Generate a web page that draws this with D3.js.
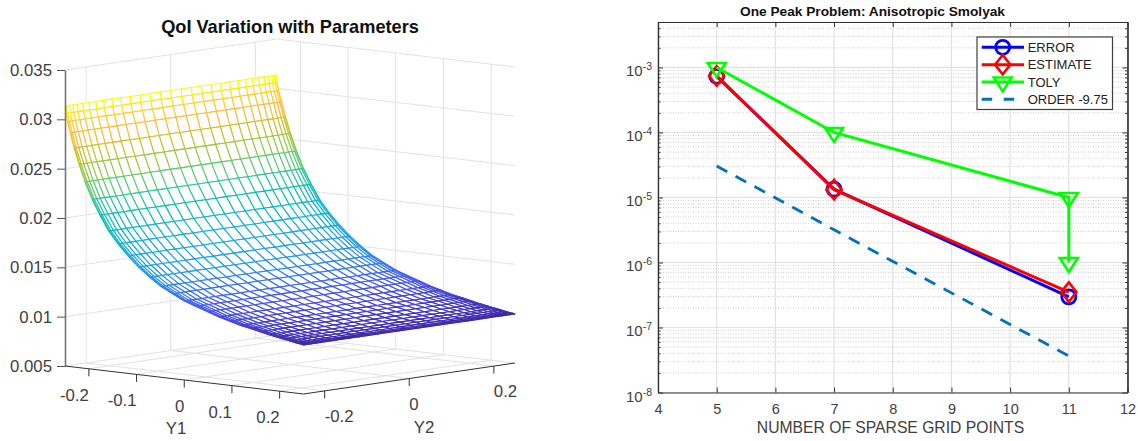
<!DOCTYPE html>
<html><head><meta charset="utf-8">
<script src="https://cdn.jsdelivr.net/npm/d3@7"></script>
<style>
html,body{margin:0;padding:0;background:#fff;overflow:hidden}
text{font-family:"Liberation Sans",Arial,sans-serif}
</style></head><body>
<svg id="c" width="1138" height="441"></svg>
<script>
// ---------- left panel data ----------
const y1Nodes=[-0.25,-0.2488,-0.2452,-0.2392,-0.231,-0.2205,-0.2079,-0.1932,-0.1768,-0.1586,-0.1389,-0.1178,-0.0957,-0.0726,-0.0488,-0.0245,0,0.0245,0.0488,0.0726,0.0957,0.1178,0.1389,0.1586,0.1768,0.1932,0.2079,0.2205,0.231,0.2392,0.2452,0.2488,0.25];
const y2Nodes=y1Nodes.slice();
const qoiByY1=[0.03135,0.0306,0.0298,0.0287,0.0272,0.0256,0.0239,0.0222,0.0207,0.0192,0.018,0.0169,0.0159,0.015,0.0142,0.0136,0.013,0.0126,0.0122,0.0118,0.0115,0.0112,0.011,0.0108,0.0106,0.01045,0.01032,0.01022,0.01012,0.01006,0.01001,0.00998,0.00997];
const y1Ticks=[-0.2,-0.1,0,0.1,0.2];
const y2Ticks=[-0.2,0,0.2];
const zTicks=[0.005,0.01,0.015,0.02,0.025,0.03,0.035];
const parulaStops=["#3e26a8","#4752f4","#2796eb","#12b1d6","#0bbdbc","#37c897","#80cc59","#c5c22a","#f8ba3d","#fecc30","#f9fb0e"];
const parulaPos=[0,0.11,0.24,0.40,0.50,0.60,0.70,0.80,0.87,0.93,1];
// ---------- right panel data ----------
const gridPoints=[5,7,11];
const errorVals=[7.3e-4,1.34e-5,2.95e-7];
const estimateVals=[7.4e-4,1.32e-5,3.5e-7];
const tolyX=[5,7,11,11];
const tolyVals=[1e-3,1e-4,1e-5,1e-6];
const orderVals=[3.05e-5,3.18e-6,3.65e-8];
const xTicks=[4,5,6,7,8,9,10,11,12];
const yDecades=[1e-8,1e-7,1e-6,1e-5,1e-4,1e-3];
const legendLabels=["ERROR","ESTIMATE","TOLY","ORDER -9.75"];

const svg=d3.select("#c");
const TXT="#404040", GRID="#e2e2e2";

// ========== LEFT: 3D mesh through linear scales ==========
const sy1X=d3.scaleLinear().domain([-0.25,0.25]).range([0,238.5]);
const sy1Y=d3.scaleLinear().domain([-0.25,0.25]).range([0,28]);
const sy2X=d3.scaleLinear().domain([-0.25,0.25]).range([0,211.5]);
const sy2Y=d3.scaleLinear().domain([-0.25,0.25]).range([0,-31]);
const sz=d3.scaleLinear().domain([0.005,0.035]).range([366,70]);
const X0=65;
const px=(a,b)=>X0+sy1X(a)+sy2X(b);
const py=(a,b,z)=>sz(z)+sy1Y(a)+sy2Y(b);
const left=svg.append("g");
const g3=left.append("g").attr("fill","none").attr("stroke",GRID).attr("stroke-width",1);
const seg=(a0,b0,z0,a1,b1,z1)=>g3.append("line").attr("x1",px(a0,b0)).attr("y1",py(a0,b0,z0)).attr("x2",px(a1,b1)).attr("y2",py(a1,b1,z1));
const [L,H]=[-0.25,0.25], [ZL,ZH]=[0.005,0.035];
zTicks.forEach(z=>{seg(L,L,z,L,H,z);seg(L,H,z,H,H,z);});
y2Ticks.forEach(b=>{seg(L,b,ZL,L,b,ZH);seg(L,b,ZL,H,b,ZL);});
y1Ticks.forEach(a=>{seg(a,H,ZL,a,H,ZH);seg(a,L,ZL,a,H,ZL);});

const zc=d3.scaleLinear().domain(parulaPos.map(t=>0.00997+t*(0.03135-0.00997))).range(parulaStops).interpolate(d3.interpolateRgb).clamp(true);
const faces=[];
for(let i=0;i<y1Nodes.length-1;i++)for(let j=y2Nodes.length-2;j>=0;j--)faces.push({i,j});
const quad=d3.line().x(d=>d[0]).y(d=>d[1]);
left.append("g").selectAll("path").data(faces).join("path")
 .attr("d",({i,j})=>{
   const v=[[i,j],[i+1,j],[i+1,j+1],[i,j+1],[i,j]].map(([m,n])=>[px(y1Nodes[m],y2Nodes[n]),py(y1Nodes[m],y2Nodes[n],qoiByY1[m])]);
   return quad(v);})
 .attr("fill","#fff").attr("stroke",d=>zc(qoiByY1[d.i])).attr("stroke-width",1.1).attr("stroke-linejoin","round");

// z axis
const zAxis=d3.axisLeft(sz).tickValues(zTicks).tickFormat(d=>String(+d.toFixed(3))).tickSizeInner(8).tickSizeOuter(0).tickPadding(5);
const gz=left.append("g").attr("transform",`translate(${X0},0)`).call(zAxis);
gz.select(".domain").attr("stroke","#777").attr("stroke-width",1.6);
gz.selectAll(".tick line").attr("stroke","#555");
gz.selectAll("text").attr("fill",TXT).attr("font-size",16.8).attr("font-family","Liberation Sans");

// oblique floor axes
const axG=left.append("g").attr("stroke","#333").attr("stroke-width",1);
const fy=(a,b)=>py(a,b,ZL);
axG.append("line").attr("x1",px(L,L)).attr("y1",fy(L,L)).attr("x2",px(H,L)).attr("y2",fy(H,L));
axG.append("line").attr("x1",px(H,L)).attr("y1",fy(H,L)).attr("x2",px(H,H)).attr("y2",fy(H,H));
y1Ticks.forEach(a=>{
  axG.append("line").attr("x1",px(a,L)).attr("x2",px(a,L)).attr("y1",fy(a,L)).attr("y2",fy(a,L)+7.5);
  left.append("text").attr("x",px(a,L)).attr("y",fy(a,L)+32).attr("text-anchor","end").attr("fill",TXT).attr("font-size",16.8).text(a);
});
y2Ticks.forEach(b=>{
  axG.append("line").attr("x1",px(H,b)).attr("x2",px(H,b)).attr("y1",fy(H,b)).attr("y2",fy(H,b)+7.5);
  left.append("text").attr("x",px(H,b)).attr("y",fy(H,b)+31).attr("text-anchor","start").attr("fill",TXT).attr("font-size",16.8).text(b);
});
left.append("text").attr("x",176).attr("y",434).attr("text-anchor","middle").attr("fill",TXT).attr("font-size",16.8).text("Y1");
left.append("text").attr("x",424).attr("y",433).attr("text-anchor","middle").attr("fill",TXT).attr("font-size",16.8).text("Y2");
left.append("text").attr("x",290).attr("y",33).attr("text-anchor","middle").attr("fill","#111").attr("font-size",18.2).attr("font-weight","bold").text("QoI Variation with Parameters");

// ========== RIGHT: semilog chart ==========
const x=d3.scaleLinear().domain([4,12]).range([658,1127.5]);
const y=d3.scaleLog().domain([1e-8,5e-3]).range([392.5,22]);
const [xa,xb]=x.range(), [yb,yt]=y.range();
const right=svg.append("g");
const minors=y.ticks().filter(v=>!yDecades.some(d=>Math.abs(v/d-1)<1e-6));

right.append("g").selectAll("line").data(minors).join("line")
 .attr("x1",xa).attr("x2",xb).attr("y1",d=>y(d)).attr("y2",d=>y(d))
 .attr("stroke","#cfcfcf").attr("stroke-width",1).attr("stroke-dasharray","1 1.5");
right.append("g").selectAll("line").data(yDecades).join("line")
 .attr("x1",xa).attr("x2",xb).attr("y1",d=>y(d)).attr("y2",d=>y(d)).attr("stroke",GRID).attr("stroke-width",1.2);
right.append("g").selectAll("line").data(xTicks).join("line")
 .attr("x1",d=>x(d)).attr("x2",d=>x(d)).attr("y1",yb).attr("y2",yt).attr("stroke",GRID).attr("stroke-width",1.2);

const AX="#333";
const style=g=>{g.select(".domain").attr("stroke",AX).attr("stroke-width",1.2);g.selectAll(".tick line").attr("stroke",AX);};
const gx=right.append("g").attr("transform",`translate(0,${yb})`).call(d3.axisBottom(x).tickValues(xTicks).tickFormat(d3.format("d")).tickSizeInner(-5).tickSizeOuter(0).tickPadding(11));
style(gx);gx.selectAll("text").attr("fill",TXT).attr("font-size",14.5).attr("font-family","Liberation Sans");
const gxt=right.append("g").attr("transform",`translate(0,${yt})`).call(d3.axisTop(x).tickValues(xTicks).tickFormat("").tickSizeInner(-5).tickSizeOuter(0));style(gxt);
const gy=right.append("g").attr("transform",`translate(${xa},0)`).call(d3.axisLeft(y).tickValues(yDecades).tickFormat("").tickSizeInner(-5).tickSizeOuter(0));style(gy);
const gyr=right.append("g").attr("transform",`translate(${xb},0)`).call(d3.axisRight(y).tickValues(yDecades).tickFormat("").tickSizeInner(-5).tickSizeOuter(0));style(gyr);
const gym=right.append("g").attr("transform",`translate(${xa},0)`).call(d3.axisLeft(y).tickValues(minors).tickFormat("").tickSizeInner(-2.5).tickSizeOuter(0));style(gym);
const gymr=right.append("g").attr("transform",`translate(${xb},0)`).call(d3.axisRight(y).tickValues(minors).tickFormat("").tickSizeInner(-2.5).tickSizeOuter(0));style(gymr);

// y tick labels with real superscripts
const yl=right.append("g").selectAll("text").data(yDecades).join("text")
 .attr("x",652).attr("y",d=>y(d)+9).attr("text-anchor","end").attr("fill",TXT).attr("font-size",15);
yl.append("tspan").text("10");
yl.append("tspan").attr("dy",-6).attr("font-size",10.5).text(d=>Math.round(Math.log10(d)));

right.append("text").attr("x",890.5).attr("y",433).attr("text-anchor","middle").attr("fill",TXT).attr("font-size",15.7).text("NUMBER OF SPARSE GRID POINTS");
right.append("text").attr("x",872.5).attr("y",16).attr("text-anchor","middle").attr("fill","#111").attr("font-size",13.7).attr("font-weight","bold").text("One Peak Problem: Anisotropic Smolyak");

// series
const LW=3;
const line=d3.line().x(d=>x(d[0])).y(d=>y(d[1]));
const zip=(a,b)=>a.map((v,i)=>[v,b[i]]);
function marker(g,kind,cx,cy,color){
  if(kind==="circle") g.append("circle").attr("cx",cx).attr("cy",cy).attr("r",7).attr("fill","none").attr("stroke",color).attr("stroke-width",2.8);
  if(kind==="diamond") g.append("path").attr("d",d3.line()([[cx,cy-9.8],[cx+7.6,cy],[cx,cy+9.8],[cx-7.6,cy]])+"Z").attr("fill","none").attr("stroke",color).attr("stroke-width",2.6);
  if(kind==="tri") g.append("path").attr("d",d3.line()([[cx-9,cy-4.5],[cx+9,cy-4.5],[cx,cy+9.5]])+"Z").attr("fill","none").attr("stroke",color).attr("stroke-width",2.6);
}
const series=[
 {pts:zip(gridPoints,errorVals),color:"#0000ff",kind:"circle"},
 {pts:zip(gridPoints,estimateVals),color:"#ff0000",kind:"diamond"},
 {pts:zip(tolyX,tolyVals),color:"#00ff00",kind:"tri"}];
series.forEach(s=>{
  const g=right.append("g");
  g.append("path").attr("d",line(s.pts)).attr("fill","none").attr("stroke",s.color).attr("stroke-width",LW);
  s.pts.forEach(p=>marker(g,s.kind,x(p[0]),y(p[1]),s.color));
});
right.append("path").attr("d",line(zip(gridPoints,orderVals))).attr("fill","none").attr("stroke","#0072bd").attr("stroke-width",2.8).attr("stroke-dasharray","12 9.5");

// legend
const lg=right.append("g");
lg.append("rect").attr("x",977).attr("y",37).attr("width",135.5).attr("height",72.5).attr("fill","#fff").attr("stroke","#404040").attr("stroke-width",1.2);
const rowY=d3.scalePoint().domain(legendLabels).range([47.3,99.3]);
const legendColors=["#0000ff","#ff0000","#00ff00","#0072bd"];
const legendKinds=["circle","diamond","tri",null];
legendLabels.forEach((t,i)=>{
  const ry=rowY(t);
  const l=lg.append("line").attr("x1",981.7).attr("x2",1024).attr("y1",ry).attr("y2",ry).attr("stroke",legendColors[i]).attr("stroke-width",LW);
  if(legendKinds[i]) marker(lg,legendKinds[i],1002.7,ry,legendColors[i]);
  else l.attr("stroke-dasharray","10.5 11.5");
  lg.append("text").attr("x",1027.7).attr("y",ry+4.7).attr("fill","#222").attr("font-size",13).text(t);
});
</script></body></html>
